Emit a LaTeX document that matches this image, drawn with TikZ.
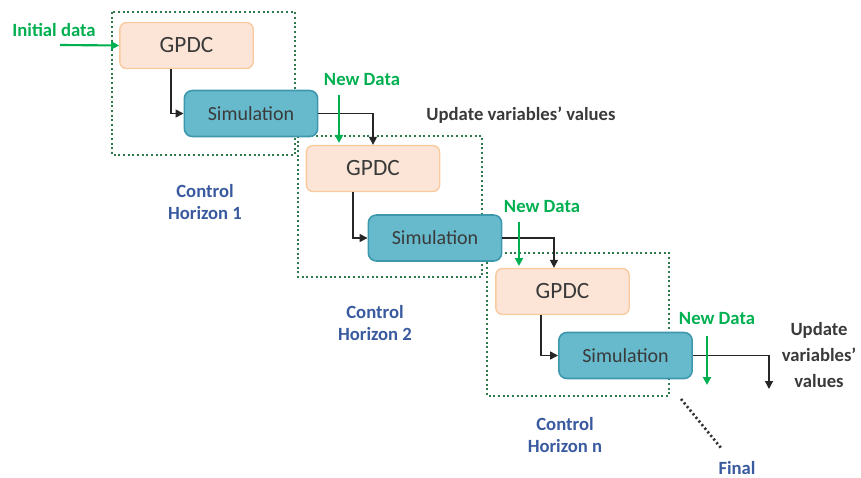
\documentclass[tikz,border=0pt]{standalone}
\usepackage{fontspec}
\setmainfont{Carlito}
\usetikzlibrary{arrows.meta}
\definecolor{gpdcfill}{HTML}{FCE4D6}
\definecolor{gpdcedge}{HTML}{F8CA9E}
\definecolor{simfill}{HTML}{66BACC}
\definecolor{simedge}{HTML}{3E98AD}
\definecolor{txtgrey}{HTML}{3A3A3A}
\definecolor{datagreen}{HTML}{00B050}
\definecolor{horizonblue}{HTML}{3A5AA0}
\definecolor{framegreen}{HTML}{2F7A4A}
\tikzset{
  gpdcbox/.style={draw=gpdcedge, line width=1pt, fill=gpdcfill, rounded corners=5pt,
    minimum width=100pt, minimum height=34.5pt, inner sep=0pt,
    font=\fontsize{17.5}{20}\selectfont, text=txtgrey},
  simbox/.style={draw=simedge, line width=1.2pt, fill=simfill, rounded corners=6pt,
    minimum width=100pt, minimum height=34.5pt, inner sep=0pt,
    font=\fontsize{15}{18}\selectfont, text=txtgrey},
  horizonframe/.style={draw=framegreen, line width=2pt, dash pattern=on 1.6pt off 1.9pt},
  flow/.style={draw=black!85, line width=1.1pt, -{Triangle[length=6pt,width=6pt]}},
  dataflow/.style={draw=datagreen, line width=1.6pt, -{Triangle[length=6pt,width=6pt]}},
  datalabel/.style={text=datagreen, font=\bfseries\fontsize{14}{16}\selectfont, inner sep=0pt},
  updatelabel/.style={text=txtgrey, font=\bfseries\fontsize{14}{16}\selectfont, inner sep=0pt, align=center},
  horizonlabel/.style={text=horizonblue, font=\bfseries\fontsize{14}{17}\selectfont, inner sep=0pt, align=center},
}
\begin{document}
\begin{tikzpicture}[x=0.75pt, y=-0.75pt]
\useasboundingbox (0,0) rectangle (861,478);

% control horizon frames
\draw[horizonframe] (112,12) rectangle (295,155);
\draw[horizonframe] (298,136) rectangle (482,277);
\draw[horizonframe] (487,253) rectangle (669,396);
\draw[draw=black!80, line width=2pt, dash pattern=on 1.6pt off 1.9pt] (681,399) -- (721,448);

% blocks
\node[gpdcbox] (g1) at (186.5,45.5) {GPDC};
\node[simbox]  (s1) at (251,113.5) {Simulation};
\node[gpdcbox] (g2) at (373,168.5) {GPDC};
\node[simbox]  (s2) at (435,238) {Simulation};
\node[gpdcbox] (g3) at (562.5,291.5) {GPDC};
\node[simbox]  (s3) at (625.5,355.5) {Simulation};

% labels
\node[datalabel] (init) at (54,30) {Initial data};
\node[datalabel] (nd1) at (362,80) {New Data};
\node[datalabel] (nd2) at (542,207) {New Data};
\node[datalabel] (nd3) at (717,319) {New Data};
\node[updatelabel] (up1) at (521,115) {Update variables’ values};
\node[updatelabel, font=\bfseries\fontsize{14}{19.5}\selectfont] (up3) at (819,355) {Update\\variables’\\values};
\node[horizonlabel] (h1) at (205,202) {Control\\Horizon 1};
\node[horizonlabel] (h2) at (375,323) {Control\\Horizon 2};
\node[horizonlabel] (hn) at (565,435) {Control\\Horizon n};
\node[text=horizonblue, font=\bfseries\fontsize{14}{16}\selectfont, inner sep=0pt] (fin) at (737,468) {Final};

% free ends of the data and output arrows
\coordinate (initstart) at (60,45);
\coordinate (d1a) at (339,95);  \coordinate (d1b) at (339,143);
\coordinate (d2a) at (519,222); \coordinate (d2b) at (519,266);
\coordinate (d3a) at (707,336); \coordinate (d3b) at (707,385);
\coordinate (outend) at (769,389);

% black flow
\draw[flow] ([xshift=-11.6pt]g1.south) |- (s1.west);
\draw[flow] (s1.east) -| (g2.north);
\draw[flow] ([xshift=-15pt]g2.south) |- (s2.west);
\draw[flow] (s2.east) -| ([xshift=-6.4pt]g3.north);
\draw[flow] ([xshift=-16pt]g3.south) |- (s3.west);
\draw[flow] (s3.east) -| (outend);

% green data arrows
\draw[dataflow] (initstart) -- (g1.west);
\draw[dataflow] (d1a) -- (d1b);
\draw[dataflow] (d2a) -- (d2b);
\draw[dataflow] (d3a) -- (d3b);
\end{tikzpicture}
\end{document}
